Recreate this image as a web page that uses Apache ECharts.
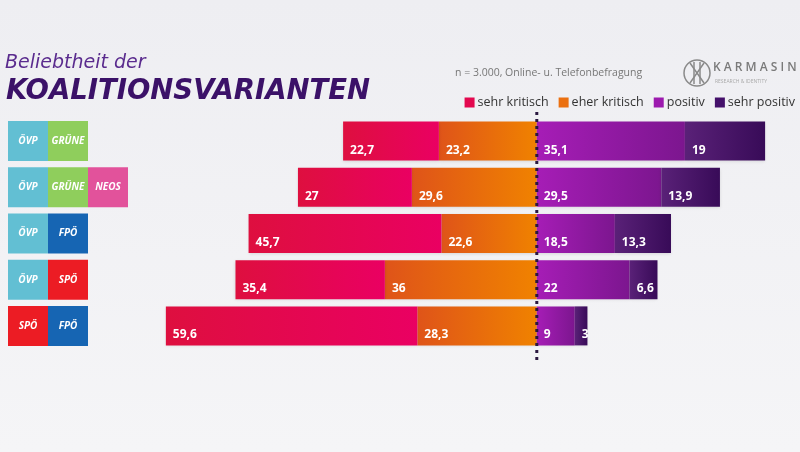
<!DOCTYPE html>
<html>
<head>
<meta charset="utf-8">
<script src="https://cdn.jsdelivr.net/npm/echarts@6/dist/echarts.min.js"></script>
<style>html,body{margin:0;padding:0;background:#f1f1f4;}#c{width:800px;height:452px;}</style>
</head>
<body>
<div id="c"></div>
<script>
const categories = ['ÖVP|GRÜNE', 'ÖVP|GRÜNE|NEOS', 'ÖVP|FPÖ', 'ÖVP|SPÖ', 'SPÖ|FPÖ'];
const seriesNames = ['sehr kritisch', 'eher kritisch', 'positiv', 'sehr positiv'];
const sehrKritisch = [22.7, 27, 45.7, 35.4, 59.6];
const eherKritisch = [23.2, 29.6, 22.6, 36, 28.3];
const positiv = [35.1, 29.5, 18.5, 22, 9];
const sehrPositiv = [19, 13.9, 13.3, 6.6, 3];
const zeroLine = [[0, 0], [0, 1]];

const partyKey = {'ÖVP':'ovp','GRÜNE':'gruene','NEOS':'neos','FPÖ':'fpo','SPÖ':'spo'};
const partyColor = {ovp:'#62bfd3', gruene:'#8fce5c', neos:'#e2529b', fpo:'#1665b3', spo:'#ec1c24'};
const rich = {};
Object.keys(partyColor).forEach(k => {
  rich[k] = {backgroundColor: partyColor[k], width: 40, height: 40, lineHeight: 40, align: 'center',
    color: '#fff', fontSize: 10, fontWeight: 'bold', fontStyle: 'italic', fontFamily: 'Open Sans'};
});

function grad(c1, c2) {
  return {type:'linear', x:0, y:0, x2:1, y2:0, colorStops:[{offset:0, color:c1},{offset:1, color:c2}]};
}
const colors = {
  'sehr kritisch': grad('#de0f3f', '#ea0062'),
  'eher kritisch': grad('#df5419', '#f08200'),
  'positiv': grad('#a61db6', '#7c168f'),
  'sehr positiv': grad('#5a2178', '#380b58')
};
const solid = {'sehr kritisch':'#e3084f','eher kritisch':'#eb7010','positiv':'#9c1aae','sehr positiv':'#44106a'};

function fmt(v) { return String(Math.abs(v)).replace('.', ','); }

const labelCfg = {show:true, position:'insideLeft', distance:7, offset:[0,9], color:'#fff', fontSize:12,
  fontWeight:'bold', fontFamily:'Open Sans', formatter: p => fmt(p.value)};

function mk(name, data, neg) {
  return {name, type:'bar', stack:'total', barWidth:39,
    data: data.map(v => neg ? -v : v),
    itemStyle:{color: colors[name], shadowColor:'rgba(0,0,0,0.12)', shadowBlur:3, shadowOffsetY:1},
    label: labelCfg, emphasis:{disabled:true}};
}

const series = [
  mk('eher kritisch', eherKritisch, true),
  mk('sehr kritisch', sehrKritisch, true),
  mk('positiv', positiv, false),
  mk('sehr positiv', sehrPositiv, false),
  {type:'line', xAxisIndex:1, yAxisIndex:1, data:zeroLine, symbol:'none', silent:true, z:20,
    lineStyle:{color:'#2a1840', type:[3,4], width:3}}
];

const chart = echarts.init(document.getElementById('c'), null, {renderer:'canvas'});
chart.setOption({
  backgroundColor: {type:'linear', x:0, y:0, x2:0, y2:1, colorStops:[{offset:0,color:'#eeeef2'},{offset:1,color:'#f5f5f7'}]},
  animation:false,
  grid:[{left:157, width:633, top:118, height:231}, {left:157, width:633, top:112, height:248}],
  xAxis:[{type:'value', min:-90, max:60, show:false}, {type:'value', gridIndex:1, min:-90, max:60, show:false}],
  yAxis:[{type:'category', data:categories, inverse:true,
    axisLine:{show:false}, axisTick:{show:false}, splitLine:{show:false},
    axisLabel:{align:'left', margin:149, rich,
      formatter: v => v.split('|').map(p => '{' + partyKey[p] + '|' + p + '}').join('')}},
    {type:'value', gridIndex:1, min:0, max:1, show:false}],
  legend:{right:0, top:91, icon:'rect', itemWidth:10, itemHeight:10, itemGap:10,
    textStyle:{color:'#333', fontSize:12.5, fontFamily:'Open Sans', padding:[0,0,0,-2]},
    data: seriesNames.map(n => ({name:n, itemStyle:{color:solid[n]}}))},
  series,
  graphic:[
    {type:'text', left:5, top:54, style:{text:'Beliebtheit der', fontSize:19, fontStyle:'italic', fontFamily:'DejaVu Sans', fill:'#5a2b8e'}},
    {type:'text', left:6, top:78, style:{text:'KOALITIONSVARIANTEN', fontSize:27.5, fontStyle:'italic', fontWeight:'bold', fontFamily:'DejaVu Sans', fill:'#3b1168'}},
    {type:'text', left:455, top:68, style:{text:'n = 3.000, Online- u. Telefonbefragung', fontSize:10.5, fontFamily:'Open Sans', fill:'#777'}},
    {type:'circle', shape:{cx:697, cy:73, r:13}, style:{fill:'none', stroke:'#8a8a8a', lineWidth:1.5}},
    {type:'polyline', shape:{points:[[690,63],[697,73],[690,83]]}, style:{fill:'none', stroke:'#8a8a8a', lineWidth:1.5}},
    {type:'polyline', shape:{points:[[704,63],[697,73],[704,83]]}, style:{fill:'none', stroke:'#8a8a8a', lineWidth:1.5}},
    {type:'line', shape:{x1:694, y1:62, x2:694, y2:84}, style:{stroke:'#8a8a8a', lineWidth:1.5}},
    {type:'line', shape:{x1:700, y1:62, x2:700, y2:84}, style:{stroke:'#8a8a8a', lineWidth:1.5}},
    {type:'text', left:713, top:62, style:{text:'K A R M A S I N', fontSize:12, fontWeight:600, fontFamily:'Open Sans', fill:'#7a7a7a'}},
    {type:'text', left:715, top:79, style:{text:'RESEARCH & IDENTITY', fontSize:5, fontFamily:'Open Sans', fill:'#aaa'}}
  ]
});
</script>
</body>
</html>
